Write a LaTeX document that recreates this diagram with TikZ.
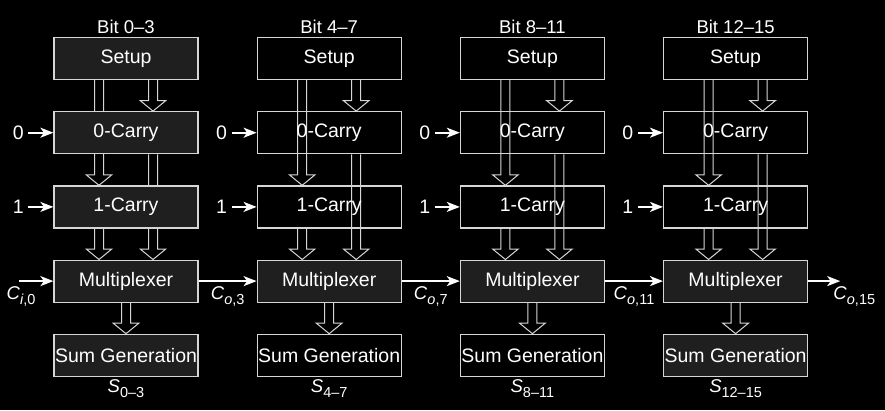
\documentclass[tikz,border=0pt]{standalone}
\usepackage{fontspec}
\setmainfont{Liberation Sans}
\usetikzlibrary{positioning,arrows.meta}
\pgfdeclarelayer{bg}
\pgfsetlayers{bg,main}
\definecolor{boxgray}{HTML}{1F1F1F}
\definecolor{edgegray}{HTML}{D6D6D6}
\newcommand\lab[2]{\textit{#1}\raisebox{-5pt}{\fontsize{14.5}{15}\selectfont #2}}
\tikzset{
	box/.style={draw=edgegray, line width=1.2pt, text=white, minimum width=144pt,
		minimum height=42pt, inner sep=0pt, font=\fontsize{19.5}{20}\selectfont},
	shaded/.style={box, fill=boxgray},
	lbl/.style={text=white, font=\fontsize{18.5}{19}\selectfont},
	num/.style={text=white, inner sep=4.5pt, font=\fontsize{19.5}{20}\selectfont},
	wire/.style={white, line width=1.8pt, -{Stealth[length=13pt,width=10pt,inset=3.5pt]}},
	fat/.style={draw=edgegray, line width=1pt, to path={
		([xshift=-4.5pt]\tikztostart) -- ([xshift=-4.5pt,yshift=10.5pt]\tikztotarget)
		-- ([xshift=-12.8pt,yshift=10.5pt]\tikztotarget) -- (\tikztotarget)
		-- ([xshift=12.8pt,yshift=10.5pt]\tikztotarget) -- ([xshift=4.5pt,yshift=10.5pt]\tikztotarget)
		-- ([xshift=4.5pt]\tikztostart)}},
}

\begin{document}
\begin{tikzpicture}
	\begin{pgfonlayer}{bg}
		\fill[black] (0,0) rectangle (885pt,-410pt);
	\end{pgfonlayer}
	\useasboundingbox (0,0) rectangle (885pt,-410pt);
	
	% bit 0-3
	\node[shaded] (setup1) at (126pt,-58.5pt) {Setup};
	\node[shaded, below=31pt of setup1] (zero1) {0-Carry};
	\node[shaded, below=31pt of zero1] (one1) {1-Carry};
	\node[shaded, below=31pt of one1] (mux1) {Multiplexer};
	\node[shaded, below=31pt of mux1] (sum1) {Sum Generation};
	% bit 4-7
	\node[box, right=58pt of setup1] (setup2) {Setup};
	\node[box, below=31pt of setup2] (zero2) {0-Carry};
	\node[box, below=31pt of zero2] (one2) {1-Carry};
	\node[shaded, below=31pt of one2] (mux2) {Multiplexer};
	\node[box, below=31pt of mux2] (sum2) {Sum Generation};
	% bit 8-11
	\node[box, right=58pt of setup2] (setup3) {Setup};
	\node[box, below=31pt of setup3] (zero3) {0-Carry};
	\node[box, below=31pt of zero3] (one3) {1-Carry};
	\node[shaded, below=31pt of one3] (mux3) {Multiplexer};
	\node[box, below=31pt of mux3] (sum3) {Sum Generation};
	% bit 12-15
	\node[box, right=58pt of setup3] (setup4) {Setup};
	\node[box, below=31pt of setup4] (zero4) {0-Carry};
	\node[box, below=31pt of zero4] (one4) {1-Carry};
	\node[shaded, below=31pt of one4] (mux4) {Multiplexer};
	\node[shaded, below=31pt of mux4] (sum4) {Sum Generation};
	
	\node[lbl, above=0pt of setup1] (bit1) {Bit 0--3};
	\node[lbl, above=0pt of setup2] (bit2) {Bit 4--7};
	\node[lbl, above=0pt of setup3] (bit3) {Bit 8--11};
	\node[lbl, above=0pt of setup4] (bit4) {Bit 12--15};
	
	\node[lbl, below=-1pt of sum1] (s1) {\lab{S}{0--3}};
	\node[lbl, below=-1pt of sum2] (s2) {\lab{S}{4--7}};
	\node[lbl, below=-1pt of sum3] (s3) {\lab{S}{8--11}};
	\node[lbl, below=-1pt of sum4] (s4) {\lab{S}{12--15}};
	
	\node[num, left=25pt of zero1] (in01) {0};
	\node[num, left=25pt of zero2] (in02) {0};
	\node[num, left=25pt of zero3] (in03) {0};
	\node[num, left=25pt of zero4] (in04) {0};
	\node[num, left=25pt of one1] (in11) {1};
	\node[num, left=25pt of one2] (in12) {1};
	\node[num, left=25pt of one3] (in13) {1};
	\node[num, left=25pt of one4] (in14) {1};
	\coordinate[left=34pt of mux1] (cin);
	\coordinate[right=32pt of mux4] (cout);
	
	\draw[wire] (in01) -- (zero1);
	\draw[wire] (in02) -- (zero2);
	\draw[wire] (in03) -- (zero3);
	\draw[wire] (in04) -- (zero4);
	\draw[wire] (in11) -- (one1);
	\draw[wire] (in12) -- (one2);
	\draw[wire] (in13) -- (one3);
	\draw[wire] (in14) -- (one4);
	
	\draw[wire] (cin) -- (mux1) node[lbl, pos=0, below=1pt, xshift=1.7pt] {\lab{C}{\textit{i},0}};
	\draw[wire] (mux1) -- (mux2) node[lbl, midway, below=1pt] {\lab{C}{\textit{o},3}};
	\draw[wire] (mux2) -- (mux3) node[lbl, midway, below=1pt] {\lab{C}{\textit{o},7}};
	\draw[wire] (mux3) -- (mux4) node[lbl, midway, below=1pt] {\lab{C}{\textit{o},11}};
	\draw[wire] (mux4) -- (cout) node[lbl, pos=1, anchor=north west, xshift=-11pt, yshift=-1pt] {\lab{C}{\textit{o},15}};
	
	\begin{pgfonlayer}{bg}
		\draw[fat] ([xshift=-27pt]setup1.south) to ([xshift=-27pt]one1.north);
		\draw[fat] ([xshift=27pt]setup1.south) to ([xshift=27pt]zero1.north);
		\draw[fat] ([xshift=27pt]zero1.south) to ([xshift=27pt]mux1.north);
		\draw[fat] ([xshift=-27pt]one1.south) to ([xshift=-27pt]mux1.north);
		\draw[fat] (mux1.south) to (sum1.north);
		
		\draw[fat] ([xshift=-27pt]setup2.south) to ([xshift=-27pt]one2.north);
		\draw[fat] ([xshift=27pt]setup2.south) to ([xshift=27pt]zero2.north);
		\draw[fat] ([xshift=27pt]zero2.south) to ([xshift=27pt]mux2.north);
		\draw[fat] ([xshift=-27pt]one2.south) to ([xshift=-27pt]mux2.north);
		\draw[fat] (mux2.south) to (sum2.north);
		
		\draw[fat] ([xshift=-27pt]setup3.south) to ([xshift=-27pt]one3.north);
		\draw[fat] ([xshift=27pt]setup3.south) to ([xshift=27pt]zero3.north);
		\draw[fat] ([xshift=27pt]zero3.south) to ([xshift=27pt]mux3.north);
		\draw[fat] ([xshift=-27pt]one3.south) to ([xshift=-27pt]mux3.north);
		\draw[fat] (mux3.south) to (sum3.north);
		
		\draw[fat] ([xshift=-27pt]setup4.south) to ([xshift=-27pt]one4.north);
		\draw[fat] ([xshift=27pt]setup4.south) to ([xshift=27pt]zero4.north);
		\draw[fat] ([xshift=27pt]zero4.south) to ([xshift=27pt]mux4.north);
		\draw[fat] ([xshift=-27pt]one4.south) to ([xshift=-27pt]mux4.north);
		\draw[fat] (mux4.south) to (sum4.north);
	\end{pgfonlayer}
\end{tikzpicture}
\end{document}
